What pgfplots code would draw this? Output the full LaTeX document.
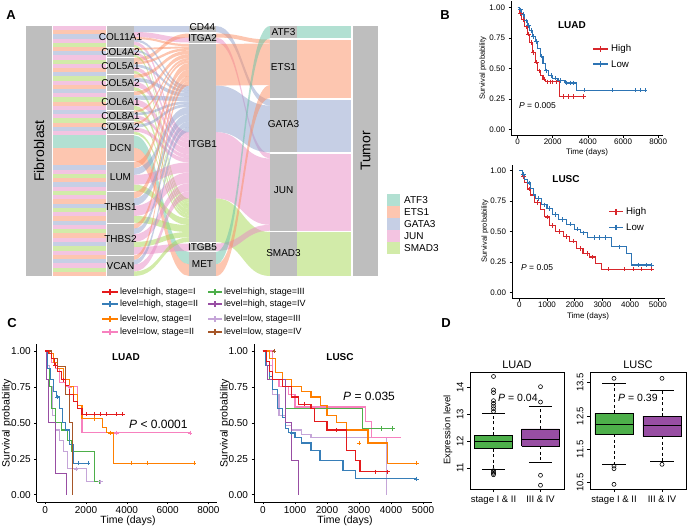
\documentclass[border=0pt]{standalone}
\usepackage{fontspec}
\setmainfont{Liberation Sans}
\setsansfont{Liberation Sans}
\usepackage{pgfplots}
\pgfplotsset{compat=1.18}
\definecolor{cA}{HTML}{66C2A5}
\definecolor{cE}{HTML}{FC8D62}
\definecolor{cG}{HTML}{8DA0CB}
\definecolor{cJ}{HTML}{E78AC3}
\definecolor{cS}{HTML}{A6D854}
\definecolor{barg}{HTML}{BEBEBE}
\definecolor{kmR}{HTML}{D7262B}
\definecolor{kmB}{HTML}{2D74B4}
\definecolor{hI}{HTML}{E41A1C}
\definecolor{hII}{HTML}{377EB8}
\definecolor{hIII}{HTML}{4DAF4A}
\definecolor{hIV}{HTML}{984EA3}
\definecolor{lI}{HTML}{FF7F00}
\definecolor{lII}{HTML}{F781BF}
\definecolor{lIII}{HTML}{C5A5D8}
\definecolor{lIV}{HTML}{A65628}
\definecolor{bxG}{HTML}{4DAF4A}
\definecolor{bxP}{HTML}{984EA3}
\newcommand\fs[1]{\fontsize{#1}{#1}\selectfont}
\newcommand\rib[8]{\fill[#8, fill opacity=0.5] (axis cs:#1,#4) .. controls (axis cs:#2,#4) and (axis cs:#2,#6) .. (axis cs:#3,#6) -- (axis cs:#3,#7) .. controls (axis cs:#2,#7) and (axis cs:#2,#5) .. (axis cs:#1,#5) -- cycle;}
\newcommand\st[3]{\fill[#3, fill opacity=0.5] (axis cs:53,#1) rectangle (axis cs:106,#2);}
\newcommand\gbar[4]{\fill[barg] (axis cs:#1,#3) rectangle (axis cs:#2,#4);}
\newcommand\gene[3]{%
 \pgfmathsetmacro\yA{#1}\pgfmathsetmacro\yB{#1+0.21*#2}\pgfmathsetmacro\yC{#1+0.445*#2}%
 \pgfmathsetmacro\yD{#1+0.78*#2}\pgfmathsetmacro\yE{#1+#2}\pgfmathsetmacro\zW{1.0377*#2}%
 \pgfmathsetmacro\zA{44+0.21*#3}\pgfmathsetmacro\zB{44+0.21*(#3+\zW)}%
 \pgfmathsetmacro\zC{85.58+0.235*#3}\pgfmathsetmacro\zD{85.58+0.235*(#3+\zW)}%
 \pgfmathsetmacro\zE{132.11+0.335*#3}\pgfmathsetmacro\zF{132.11+0.335*(#3+\zW)}%
 \pgfmathsetmacro\zG{198.44+0.22*#3}\pgfmathsetmacro\zH{198.44+0.22*(#3+\zW)}%
 \edef\tmp{\noexpand\rib{134}{161.5}{189}{\yA}{\yB}{\zA}{\zB}{cE}%
 \noexpand\rib{134}{161.5}{189}{\yB}{\yC}{\zC}{\zD}{cG}%
 \noexpand\rib{134}{161.5}{189}{\yC}{\yD}{\zE}{\zF}{cJ}%
 \noexpand\rib{134}{161.5}{189}{\yD}{\yE}{\zG}{\zH}{cS}}\tmp}
\newcommand\lab[3]{\node[inner sep=0pt, font=\fs{10}] at (axis cs:#1,#2) {#3};}
\newcommand\legl[4]{\draw[#4, line width=1.1pt] (axis cs:#1,#3) -- (axis cs:#2,#3); \pgfmathsetmacro\xm{(#1+#2)/2}\edef\tmp{\noexpand\draw[#4, line width=1.1pt] (axis cs:\xm,#3-2.8) -- (axis cs:\xm,#3+2.8);}\tmp}
\pgfplotsset{
 km/.style={scale only axis, anchor=north west, axis lines*=left, axis line style={-, line width=0.5pt, black},
  tick align=outside, major tick length=2.5pt, tick style={black, line width=0.5pt},
  ymin=-0.05, ymax=1.05, ytick={0,0.25,0.5,0.75,1}, yticklabels={0.00,0.25,0.50,0.75,1.00},
  clip=false, /pgf/number format/assume math mode=true},
 kml/.style={#1, const plot, line width=1.1pt},
 kmm/.style={#1, only marks, mark=+, mark size=2.2pt, mark options={line width=0.7pt}},
 dbox/.style={scale only axis, anchor=north west, xmin=0.5, xmax=2.5, xtick={1,2},
  xticklabels={stage I \& II, III \& IV}, xtick pos=left, ytick pos=left, tick align=outside,
  major tick length=3pt, axis line style={line width=0.6pt}, tick style={black, line width=0.5pt},
  yticklabel style={rotate=90, anchor=south}, tick label style={font=\fs{9.5}}, clip=false,
  /pgf/number format/assume math mode=true},
}
\begin{document}
\begin{tikzpicture}
\useasboundingbox (0,0) rectangle (691pt,-531pt);
% ---------------- canvas (panel A and texts)
\begin{axis}[at={(0,0)}, anchor=north west, scale only axis, width=691pt, height=531pt,
 xmin=0, xmax=691, ymin=0, ymax=531, y dir=reverse, hide axis, clip=false]
% stripes
\st{26}{30.2}{cJ}\st{30.2}{34.4}{cE}\st{34.4}{38.6}{cG}\st{38.6}{42.8}{cJ}\st{42.8}{47}{cS}
\st{47}{51.2}{cE}\st{51.2}{55.4}{cG}\st{55.4}{59.6}{cJ}\st{59.6}{63.8}{cS}\st{63.8}{68}{cJ}
\st{68}{72.2}{cE}\st{72.2}{76.4}{cG}\st{76.4}{80.6}{cS}\st{80.6}{84.8}{cJ}\st{84.8}{89}{cE}
\st{89}{93.2}{cG}\st{93.2}{97.4}{cJ}\st{97.4}{101.6}{cS}\st{101.6}{105.8}{cE}\st{105.8}{110}{cJ}
\st{110}{114.2}{cG}\st{114.2}{118.4}{cJ}\st{118.4}{122.6}{cS}\st{122.6}{126.8}{cE}\st{126.8}{131}{cG}\st{131}{135.3}{cJ}
\st{135.3}{147.6}{cA}\st{147.6}{161}{cE}
\st{161}{165.3}{cE}\st{165.3}{169.5}{cG}\st{169.5}{173.8}{cJ}\st{173.8}{178}{cS}\st{178}{182.3}{cE}
\st{182.3}{186.6}{cG}\st{186.6}{190.8}{cJ}\st{190.8}{195.1}{cS}\st{195.1}{199.3}{cJ}\st{199.3}{203.6}{cE}
\st{203.6}{207.9}{cG}\st{207.9}{212.1}{cS}\st{212.1}{216.4}{cJ}\st{216.4}{220.6}{cE}\st{220.6}{224.9}{cG}
\st{224.9}{229.2}{cJ}\st{229.2}{233.4}{cS}\st{233.4}{237.7}{cE}\st{237.7}{241.9}{cJ}\st{241.9}{246.2}{cG}
\st{246.2}{250.5}{cS}\st{250.5}{254.7}{cJ}\st{254.7}{259}{cE}\st{259}{263.2}{cG}\st{263.2}{267.5}{cJ}\st{267.5}{271.8}{cS}\st{271.8}{276}{cE}
% gene -> receptor ribbons
\rib{134}{161.5}{189}{26}{32}{26}{32}{cG}
\rib{134}{161.5}{189}{32}{37}{37.5}{42.5}{cJ}
\rib{134}{161.5}{189}{57.8}{61.8}{33.5}{37.5}{cE}
\rib{134}{161.5}{189}{135.3}{147.6}{252}{264.3}{cA}
\rib{134}{161.5}{189}{147.6}{161}{264.3}{276}{cE}
\rib{134}{161.5}{189}{247}{254.5}{243.5}{251}{cJ}
\gene{37}{10.2}{0}
\gene{48.2}{8.6}{10.58}
\gene{61.8}{11.7}{19.50}
\gene{74.5}{16}{31.64}
\gene{91.5}{18}{48.24}
\gene{110.5}{10.7}{66.92}
\gene{122.2}{12.1}{78.02}
\gene{162}{29}{90.58}
\gene{192}{30.7}{120.67}
\gene{223.7}{23.3}{152.53}
\gene{255.5}{20.5}{176.71}
% receptor -> TF ribbons
\rib{216}{243}{270}{26}{32}{99.5}{105.5}{cG}
\rib{216}{243}{270}{33.5}{37.5}{39.5}{43.5}{cE}
\rib{216}{243}{270}{37.5}{42.5}{153.5}{158.5}{cJ}
\rib{216}{243}{270}{44}{85.58}{43.5}{85.1}{cE}
\rib{216}{243}{270}{85.58}{132.11}{105.5}{152.3}{cG}
\rib{216}{243}{270}{132.11}{198.44}{158.5}{224.8}{cJ}
\rib{216}{243}{270}{198.44}{242}{232}{276}{cS}
\rib{216}{243}{270}{243.5}{251}{224.8}{230.7}{cJ}
\rib{216}{243}{270}{252}{264.3}{26}{38.3}{cA}
\rib{216}{243}{270}{264.3}{276}{85.1}{98}{cE}
% TF -> tumor blocks
\fill[cA, fill opacity=0.5] (axis cs:297,26) rectangle (axis cs:351,38.3);
\fill[cE, fill opacity=0.5] (axis cs:297,39.5) rectangle (axis cs:351,98);
\fill[cG, fill opacity=0.5] (axis cs:297,99.5) rectangle (axis cs:351,152.3);
\fill[cJ, fill opacity=0.5] (axis cs:297,153.5) rectangle (axis cs:351,230.7);
\fill[cS, fill opacity=0.5] (axis cs:297,232) rectangle (axis cs:351,276);
% gray strata
\gbar{26}{52}{26}{276}
\gbar{107}{134}{26}{47.2}\gbar{107}{134}{48.2}{56.8}\gbar{107}{134}{57.8}{73.5}\gbar{107}{134}{74.5}{90.5}
\gbar{107}{134}{91.5}{109.5}\gbar{107}{134}{110.5}{121.2}\gbar{107}{134}{122.2}{134.3}\gbar{107}{134}{135.3}{161}
\gbar{107}{134}{162}{191}\gbar{107}{134}{192}{222.7}\gbar{107}{134}{223.7}{254.5}\gbar{107}{134}{255.5}{276}
\gbar{189}{216}{26}{32}\gbar{189}{216}{33.5}{42.5}\gbar{189}{216}{44}{242}\gbar{189}{216}{243.5}{251}\gbar{189}{216}{252}{276}
\gbar{270}{297}{26}{38.3}\gbar{270}{297}{39.5}{98}\gbar{270}{297}{99.5}{152.3}\gbar{270}{297}{153.5}{230.7}\gbar{270}{297}{232}{276}
\gbar{353}{378}{26}{276}
% labels A
\node[rotate=90, font=\fs{14}] at (axis cs:39,151) {Fibroblast};
\node[rotate=90, font=\fs{14}] at (axis cs:365.5,151) {Tumor};
\lab{120.5}{36.7}{COL11A1}\lab{120.5}{52.3}{COL4A2}\lab{120.5}{65.7}{COL5A1}\lab{120.5}{82.7}{COL5A2}
\lab{120.5}{101.7}{COL6A1}\lab{120.5}{115.7}{COL8A1}\lab{120.5}{127}{COL9A2}\lab{120.5}{148.3}{DCN}
\lab{120.5}{176.7}{LUM}\lab{120.5}{207.3}{THBS1}\lab{120.5}{239}{THBS2}\lab{120.5}{265.7}{VCAN}
\lab{202.5}{27.5}{CD44}\lab{202.5}{38.5}{ITGA2}\lab{202.5}{144}{ITGB1}\lab{202.5}{247.5}{ITGB5}\lab{202.5}{264}{MET}
\lab{283.5}{32}{ATF3}\lab{283.5}{67}{ETS1}\lab{283.5}{124}{GATA3}\lab{283.5}{190}{JUN}\lab{283.5}{253}{SMAD3}
% legend A
\fill[cA, fill opacity=0.5] (axis cs:387,194) rectangle (axis cs:400,206);
\fill[cE, fill opacity=0.5] (axis cs:387,206) rectangle (axis cs:400,218);
\fill[cG, fill opacity=0.5] (axis cs:387,218) rectangle (axis cs:400,230);
\fill[cJ, fill opacity=0.5] (axis cs:387,230) rectangle (axis cs:400,242);
\fill[cS, fill opacity=0.5] (axis cs:387,242) rectangle (axis cs:400,254);
\node[anchor=west, font=\fs{10}, inner sep=0pt] at (axis cs:404,200) {ATF3};
\node[anchor=west, font=\fs{10}, inner sep=0pt] at (axis cs:404,212) {ETS1};
\node[anchor=west, font=\fs{10}, inner sep=0pt] at (axis cs:404,224) {GATA3};
\node[anchor=west, font=\fs{10}, inner sep=0pt] at (axis cs:404,236) {JUN};
\node[anchor=west, font=\fs{10}, inner sep=0pt] at (axis cs:404,248) {SMAD3};
% panel letters
\node[font=\bfseries\fs{13}] at (axis cs:11,15) {A};
\node[font=\bfseries\fs{13}] at (axis cs:445,15) {B};
\node[font=\bfseries\fs{13}] at (axis cs:12,323) {C};
\node[font=\bfseries\fs{13}] at (axis cs:446,323) {D};
% B texts
\node[font=\bfseries\fs{10}] at (axis cs:572,25) {LUAD};
\node[font=\bfseries\fs{10}] at (axis cs:566,179) {LUSC};
\node[anchor=west, font=\fs{8.5}, inner sep=0pt] at (axis cs:519,106) {\textit{P} = 0.005};
\node[anchor=west, font=\fs{8.5}, inner sep=0pt] at (axis cs:521,267.3) {\textit{P} = 0.05};
\node[rotate=90, font=\fs{7.5}] at (axis cs:483,68) {Survival probability};
\node[rotate=90, font=\fs{7.5}] at (axis cs:485,231) {Survival probability};
\node[font=\fs{8}, inner sep=0pt] at (axis cs:587,152.5) {Time (days)};
\node[font=\fs{8}, inner sep=0pt] at (axis cs:588,316) {Time (days)};
\legl{593}{608}{49}{kmR}\legl{593}{608}{64}{kmB}
\node[anchor=west, font=\fs{9.7}, inner sep=0pt] at (axis cs:611,49) {High};
\node[anchor=west, font=\fs{9.7}, inner sep=0pt] at (axis cs:611,64) {Low};
\legl{609}{623}{211.7}{kmR}\legl{609}{623}{227.3}{kmB}
\node[anchor=west, font=\fs{9.7}, inner sep=0pt] at (axis cs:626,211.7) {High};
\node[anchor=west, font=\fs{9.7}, inner sep=0pt] at (axis cs:626,227.3) {Low};
% C legend
\legl{102}{118}{292}{hI}\legl{102}{118}{304}{hII}\legl{102}{118}{319}{lI}\legl{102}{118}{332}{lII}
\legl{208}{222}{292}{hIII}\legl{208}{222}{304}{hIV}\legl{208}{222}{319}{lIII}\legl{208}{222}{332}{lIV}
\node[anchor=west, font=\fs{9}, inner sep=0pt] at (axis cs:120,292) {level=high, stage=I};
\node[anchor=west, font=\fs{9}, inner sep=0pt] at (axis cs:120,304) {level=high, stage=II};
\node[anchor=west, font=\fs{9}, inner sep=0pt] at (axis cs:120,319) {level=low, stage=I};
\node[anchor=west, font=\fs{9}, inner sep=0pt] at (axis cs:120,332) {level=low, stage=II};
\node[anchor=west, font=\fs{9}, inner sep=0pt] at (axis cs:224,292) {level=high, stage=III};
\node[anchor=west, font=\fs{9}, inner sep=0pt] at (axis cs:224,304) {level=high, stage=IV};
\node[anchor=west, font=\fs{9}, inner sep=0pt] at (axis cs:224,319) {level=low, stage=III};
\node[anchor=west, font=\fs{9}, inner sep=0pt] at (axis cs:224,332) {level=low, stage=IV};
% C texts
\node[font=\bfseries\fs{10}] at (axis cs:126,357) {LUAD};
\node[font=\bfseries\fs{10}] at (axis cs:340,357) {LUSC};
\node[anchor=west, font=\fs{12}, inner sep=0pt] at (axis cs:129,424) {\textit{P} < 0.0001};
\node[anchor=west, font=\fs{12}, inner sep=0pt] at (axis cs:343,396) {\textit{P} = 0.035};
\node[rotate=90, font=\fs{10.5}] at (axis cs:7,423) {Survival probability};
\node[rotate=90, font=\fs{10.5}] at (axis cs:225,423) {Survival probability};
\node[font=\fs{10.5}, inner sep=0pt] at (axis cs:128,521) {Time (days)};
\node[font=\fs{10.5}, inner sep=0pt] at (axis cs:345,521) {Time (days)};
% D texts
\node[font=\fs{11}] at (axis cs:517,365) {LUAD};
\node[font=\fs{11}] at (axis cs:638,365) {LUSC};
\node[rotate=90, font=\fs{9.5}] at (axis cs:448,430) {Expression level};
\node[anchor=west, font=\fs{10.5}, inner sep=0pt] at (axis cs:498,398.3) {\textit{P} = 0.04};
\node[anchor=west, font=\fs{10.5}, inner sep=0pt] at (axis cs:618,398.3) {\textit{P} = 0.39};
\end{axis}
% ---------------- B top LUAD
\begin{axis}[km, at={(511pt,-1.2pt)}, width=152pt, height=134.2pt, xmin=-370, xmax=8270,
 xtick={0,2000,4000,6000,8000}, xticklabels={0,2000,4000,6000,8000}, tick label style={font=\fs{8}},
 xticklabel style={inner sep=1pt}]
\addplot[kml=kmR] coordinates {(0,1) (100,0.95) (250,0.9) (400,0.84) (550,0.78) (700,0.71) (850,0.63) (1000,0.55) (1150,0.48) (1300,0.44) (1450,0.41) (1600,0.39) (2370,0.27) (3750,0.27)};
\addplot[kml=kmB] coordinates {(0,1) (100,0.98) (250,0.94) (400,0.89) (550,0.85) (700,0.81) (850,0.76) (1000,0.72) (1150,0.66) (1300,0.6) (1450,0.54) (1600,0.48) (1750,0.44) (2000,0.42) (2300,0.40) (2700,0.38) (3350,0.32) (7250,0.32)};
\addplot[kmm=kmR] coordinates {(180,0.95) (320,0.9) (480,0.84) (620,0.78) (780,0.71) (920,0.63) (1080,0.55) (1220,0.48) (1500,0.41) (1700,0.39) (1850,0.39) (2000,0.39) (2200,0.39) (2600,0.27) (2900,0.27) (3200,0.27) (3750,0.27)};
\addplot[kmm=kmB] coordinates {(180,0.98) (320,0.94) (480,0.89) (620,0.85) (780,0.81) (920,0.76) (1080,0.72) (1380,0.6) (1650,0.48) (1900,0.44) (2150,0.42) (2450,0.40) (2800,0.38) (3000,0.38) (3200,0.38) (3800,0.32) (5400,0.32) (6700,0.32) (7000,0.32) (7250,0.32)};
\end{axis}
% ---------------- B bottom LUSC
\begin{axis}[km, at={(512pt,-164.6pt)}, width=153pt, height=133.8pt, xmin=-264, xmax=5260,
 xtick={0,1000,2000,3000,4000,5000}, xticklabels={0,1000,2000,3000,4000,5000}, tick label style={font=\fs{8}},
 xticklabel style={inner sep=1pt}]
\addplot[kml=kmR] coordinates {(0,1) (100,0.95) (200,0.9) (300,0.85) (400,0.8) (550,0.74) (750,0.68) (900,0.62) (1100,0.55) (1300,0.5) (1600,0.46) (1800,0.42) (2050,0.36) (2300,0.32) (2550,0.29) (2750,0.24) (2970,0.19) (4780,0.19)};
\addplot[kml=kmB] coordinates {(0,1) (100,0.97) (200,0.93) (300,0.9) (400,0.85) (500,0.8) (600,0.77) (800,0.72) (1000,0.69) (1200,0.64) (1400,0.6) (1700,0.56) (2000,0.52) (2200,0.49) (2450,0.45) (3340,0.375) (3880,0.32) (4060,0.225) (4780,0.225)};
\addplot[kmm=kmR] coordinates {(150,0.95) (350,0.85) (650,0.74) (1000,0.62) (1200,0.55) (1450,0.5) (1700,0.46) (1950,0.42) (2200,0.36) (2450,0.32) (2650,0.29) (3200,0.19) (3800,0.19) (4100,0.19) (4400,0.19) (4780,0.19)};
\addplot[kmm=kmB] coordinates {(150,0.97) (350,0.9) (700,0.77) (900,0.72) (1100,0.69) (1300,0.64) (1550,0.6) (1850,0.56) (2100,0.52) (2300,0.49) (2700,0.45) (2900,0.45) (3100,0.45) (3600,0.375) (4300,0.225) (4600,0.225) (4780,0.225)};
\end{axis}
% ---------------- C left LUAD
\begin{axis}[km, at={(36.7pt,-343.8pt)}, width=180.3pt, height=158.1pt, xmin=-420, xmax=8420,
 xtick={0,2000,4000,6000,8000}, xticklabels={0,2000,4000,6000,8000}, tick label style={font=\fs{10}},
 xticklabel style={inner sep=1.5pt}]
\addplot[kml=lIII] coordinates {(0,1) (100,0.9) (200,0.75) (350,0.55) (500,0.45) (700,0.38) (900,0.3) (1100,0.18) (2000,0.09) (2700,0.09)};
\addplot[kml=lII] coordinates {(0,1) (300,0.92) (500,0.88) (700,0.78) (1000,0.75) (1600,0.6) (1800,0.43) (7100,0.43)};
\addplot[kml=lI] coordinates {(0,1) (200,0.98) (400,0.92) (600,0.88) (900,0.8) (1200,0.75) (1400,0.7) (1600,0.62) (1800,0.53) (2800,0.47) (3000,0.43) (3350,0.22) (7300,0.22)};
\addplot[kml=hIII] coordinates {(0,1) (100,0.88) (200,0.75) (300,0.6) (500,0.5) (800,0.45) (1100,0.38) (1300,0.3) (2430,0.09) (2650,0.09)};
\addplot[kml=hII] coordinates {(0,1) (100,0.88) (250,0.8) (400,0.72) (550,0.68) (700,0.6) (850,0.5) (1000,0.45) (1200,0.35) (1400,0.22) (2100,0.22)};
\addplot[kml=hIV] coordinates {(0,1) (80,0.8) (150,0.5) (420,0.5) (480,0.15) (1040,0) (1040,0)};
\addplot[kml=lIV] coordinates {(0,1) (300,0.95) (600,0.89) (1000,0.7) (1200,0.5) (1340,0) (1340,0)};
\addplot[kml=hI] coordinates {(0,1) (150,0.98) (300,0.95) (450,0.9) (600,0.86) (800,0.8) (1000,0.76) (1200,0.7) (1400,0.65) (1600,0.6) (1800,0.56) (3800,0.56)};
\addplot[kmm=hI] coordinates {(500,0.9) (900,0.8) (2000,0.56) (2400,0.56) (2700,0.56) (3000,0.56) (3500,0.56) (3800,0.56)};
\addplot[kmm=lI] coordinates {(2400,0.53) (3200,0.43) (4200,0.22) (5000,0.22) (7300,0.22)};
\addplot[kmm=lII] coordinates {(1200,0.75) (3500,0.43) (7100,0.43)};
\addplot[kmm=hII] coordinates {(600,0.68) (1600,0.22) (2100,0.22)};
\addplot[kmm=hIII] coordinates {(2650,0.09)};
\addplot[kmm=lIII] coordinates {(1500,0.18) (2700,0.09)};
\end{axis}
% ---------------- C right LUSC
\begin{axis}[km, at={(254pt,-343.8pt)}, width=178pt, height=158.1pt, xmin=-281, xmax=5281,
 xtick={0,1000,2000,3000,4000,5000}, xticklabels={0,1000,2000,3000,4000,5000}, tick label style={font=\fs{10}},
 xticklabel style={inner sep=1.5pt}]
\addplot[kml=lIV] coordinates {(0,1) (350,1)};
\addplot[kml=lIII] coordinates {(0,1) (100,0.9) (300,0.7) (500,0.55) (700,0.48) (900,0.45) (1200,0.42) (1500,0.40) (3850,0) (3850,0)};
\addplot[kml=lII] coordinates {(0,1) (300,0.8) (500,0.75) (800,0.7) (1000,0.61) (3200,0.51) (3400,0.4) (4300,0.4)};
\addplot[kml=lI] coordinates {(0,1) (200,0.95) (400,0.85) (600,0.8) (900,0.75) (1200,0.72) (1500,0.68) (1800,0.62) (2000,0.55) (2300,0.5) (2600,0.45) (3280,0.36) (3900,0.22) (4800,0.22)};
\addplot[kml=hIII] coordinates {(0,1) (100,0.9) (200,0.8) (700,0.6) (3100,0.46) (4050,0.46)};
\addplot[kml=hII] coordinates {(0,1) (80,0.9) (200,0.82) (300,0.73) (450,0.6) (600,0.54) (700,0.46) (800,0.43) (1000,0.4) (1200,0.36) (1500,0.31) (1780,0.24) (2500,0.17) (2900,0.11) (4800,0.11)};
\addplot[kml=hIV] coordinates {(0,1) (100,0.9) (150,0.8) (650,0.8) (700,0.5) (900,0.24) (1120,0) (1120,0)};
\addplot[kml=hI] coordinates {(0,1) (100,0.93) (200,0.86) (300,0.8) (600,0.75) (900,0.68) (1100,0.63) (1500,0.6) (1600,0.51) (2000,0.45) (2600,0.31) (2900,0.24) (3030,0.16) (3900,0.16)};
\addplot[kmm=hI] coordinates {(1300,0.63) (2300,0.45) (3500,0.16) (3900,0.16)};
\addplot[kmm=hII] coordinates {(900,0.43) (4800,0.11)};
\addplot[kmm=lI] coordinates {(3000,0.36) (4800,0.22)};
\addplot[kmm=hIII] coordinates {(3700,0.46) (4050,0.46)};
\addplot[kmm=lIV] coordinates {(350,1)};
\end{axis}
% ---------------- D LUAD
\begin{axis}[dbox, at={(470pt,-372.7pt)}, width=94pt, height=116.3pt, ymin=10.22, ymax=14.54, ytick={11,12,13,14}]
\addplot[black, dash pattern=on 3pt off 2.5pt, line width=0.6pt] coordinates {(1,12.21) (1,13.02)};
\addplot[black, dash pattern=on 3pt off 2.5pt, line width=0.6pt] coordinates {(1,11.72) (1,10.95)};
\addplot[black, line width=0.6pt] coordinates {(0.75,13.02) (1.25,13.02)};
\addplot[black, line width=0.6pt] coordinates {(0.75,10.95) (1.25,10.95)};
\addplot[fill=bxG, draw=black, line width=0.6pt] coordinates {(0.6,11.72) (1.4,11.72) (1.4,12.21) (0.6,12.21) (0.6,11.72)};
\addplot[black, line width=1.2pt] coordinates {(0.6,11.98) (1.4,11.98)};
\addplot[black, only marks, mark=o, mark size=2pt, mark options={line width=0.6pt}] coordinates {(1,13.1) (1,13.2) (1,13.3) (1,13.4) (1,13.5) (1,13.8) (1,13.9) (1,14.4) (1,10.9) (1,10.85) (1,10.8) (1,10.75)};
\addplot[black, dash pattern=on 3pt off 2.5pt, line width=0.6pt] coordinates {(2,12.45) (2,13.3)};
\addplot[black, dash pattern=on 3pt off 2.5pt, line width=0.6pt] coordinates {(2,11.8) (2,11.23)};
\addplot[black, line width=0.6pt] coordinates {(1.75,13.3) (2.25,13.3)};
\addplot[black, line width=0.6pt] coordinates {(1.75,11.23) (2.25,11.23)};
\addplot[fill=bxP, draw=black, line width=0.6pt] coordinates {(1.6,11.8) (2.4,11.8) (2.4,12.45) (1.6,12.45) (1.6,11.8)};
\addplot[black, line width=1.2pt] coordinates {(1.6,12.05) (2.4,12.05)};
\addplot[black, only marks, mark=o, mark size=2pt, mark options={line width=0.6pt}] coordinates {(2,14.02) (2,13.45) (2,10.73) (2,10.36)};
\end{axis}
% ---------------- D LUSC
\begin{axis}[dbox, at={(590pt,-372.7pt)}, width=96pt, height=116.3pt, ymin=10.31, ymax=13.8, ytick={10.5,11.5,12.5,13.5}]
\addplot[black, dash pattern=on 3pt off 2.5pt, line width=0.6pt] coordinates {(1,12.58) (1,13.48)};
\addplot[black, dash pattern=on 3pt off 2.5pt, line width=0.6pt] coordinates {(1,11.95) (1,11.05)};
\addplot[black, line width=0.6pt] coordinates {(0.75,13.48) (1.25,13.48)};
\addplot[black, line width=0.6pt] coordinates {(0.75,11.05) (1.25,11.05)};
\addplot[fill=bxG, draw=black, line width=0.6pt] coordinates {(0.6,11.95) (1.4,11.95) (1.4,12.58) (0.6,12.58) (0.6,11.95)};
\addplot[black, line width=1.2pt] coordinates {(0.6,12.25) (1.4,12.25)};
\addplot[black, only marks, mark=o, mark size=2pt, mark options={line width=0.6pt}] coordinates {(1,13.63) (1,11.0) (1,10.92) (1,10.45)};
\addplot[black, dash pattern=on 3pt off 2.5pt, line width=0.6pt] coordinates {(2,12.5) (2,13.28)};
\addplot[black, dash pattern=on 3pt off 2.5pt, line width=0.6pt] coordinates {(2,11.9) (2,11.15)};
\addplot[black, line width=0.6pt] coordinates {(1.75,13.28) (2.25,13.28)};
\addplot[black, line width=0.6pt] coordinates {(1.75,11.15) (2.25,11.15)};
\addplot[fill=bxP, draw=black, line width=0.6pt] coordinates {(1.6,11.9) (2.4,11.9) (2.4,12.5) (1.6,12.5) (1.6,11.9)};
\addplot[black, line width=1.2pt] coordinates {(1.6,12.21) (2.4,12.21)};
\addplot[black, only marks, mark=o, mark size=2pt, mark options={line width=0.6pt}] coordinates {(2,13.63) (2,11.05)};
\end{axis}
\end{tikzpicture}
\end{document}
